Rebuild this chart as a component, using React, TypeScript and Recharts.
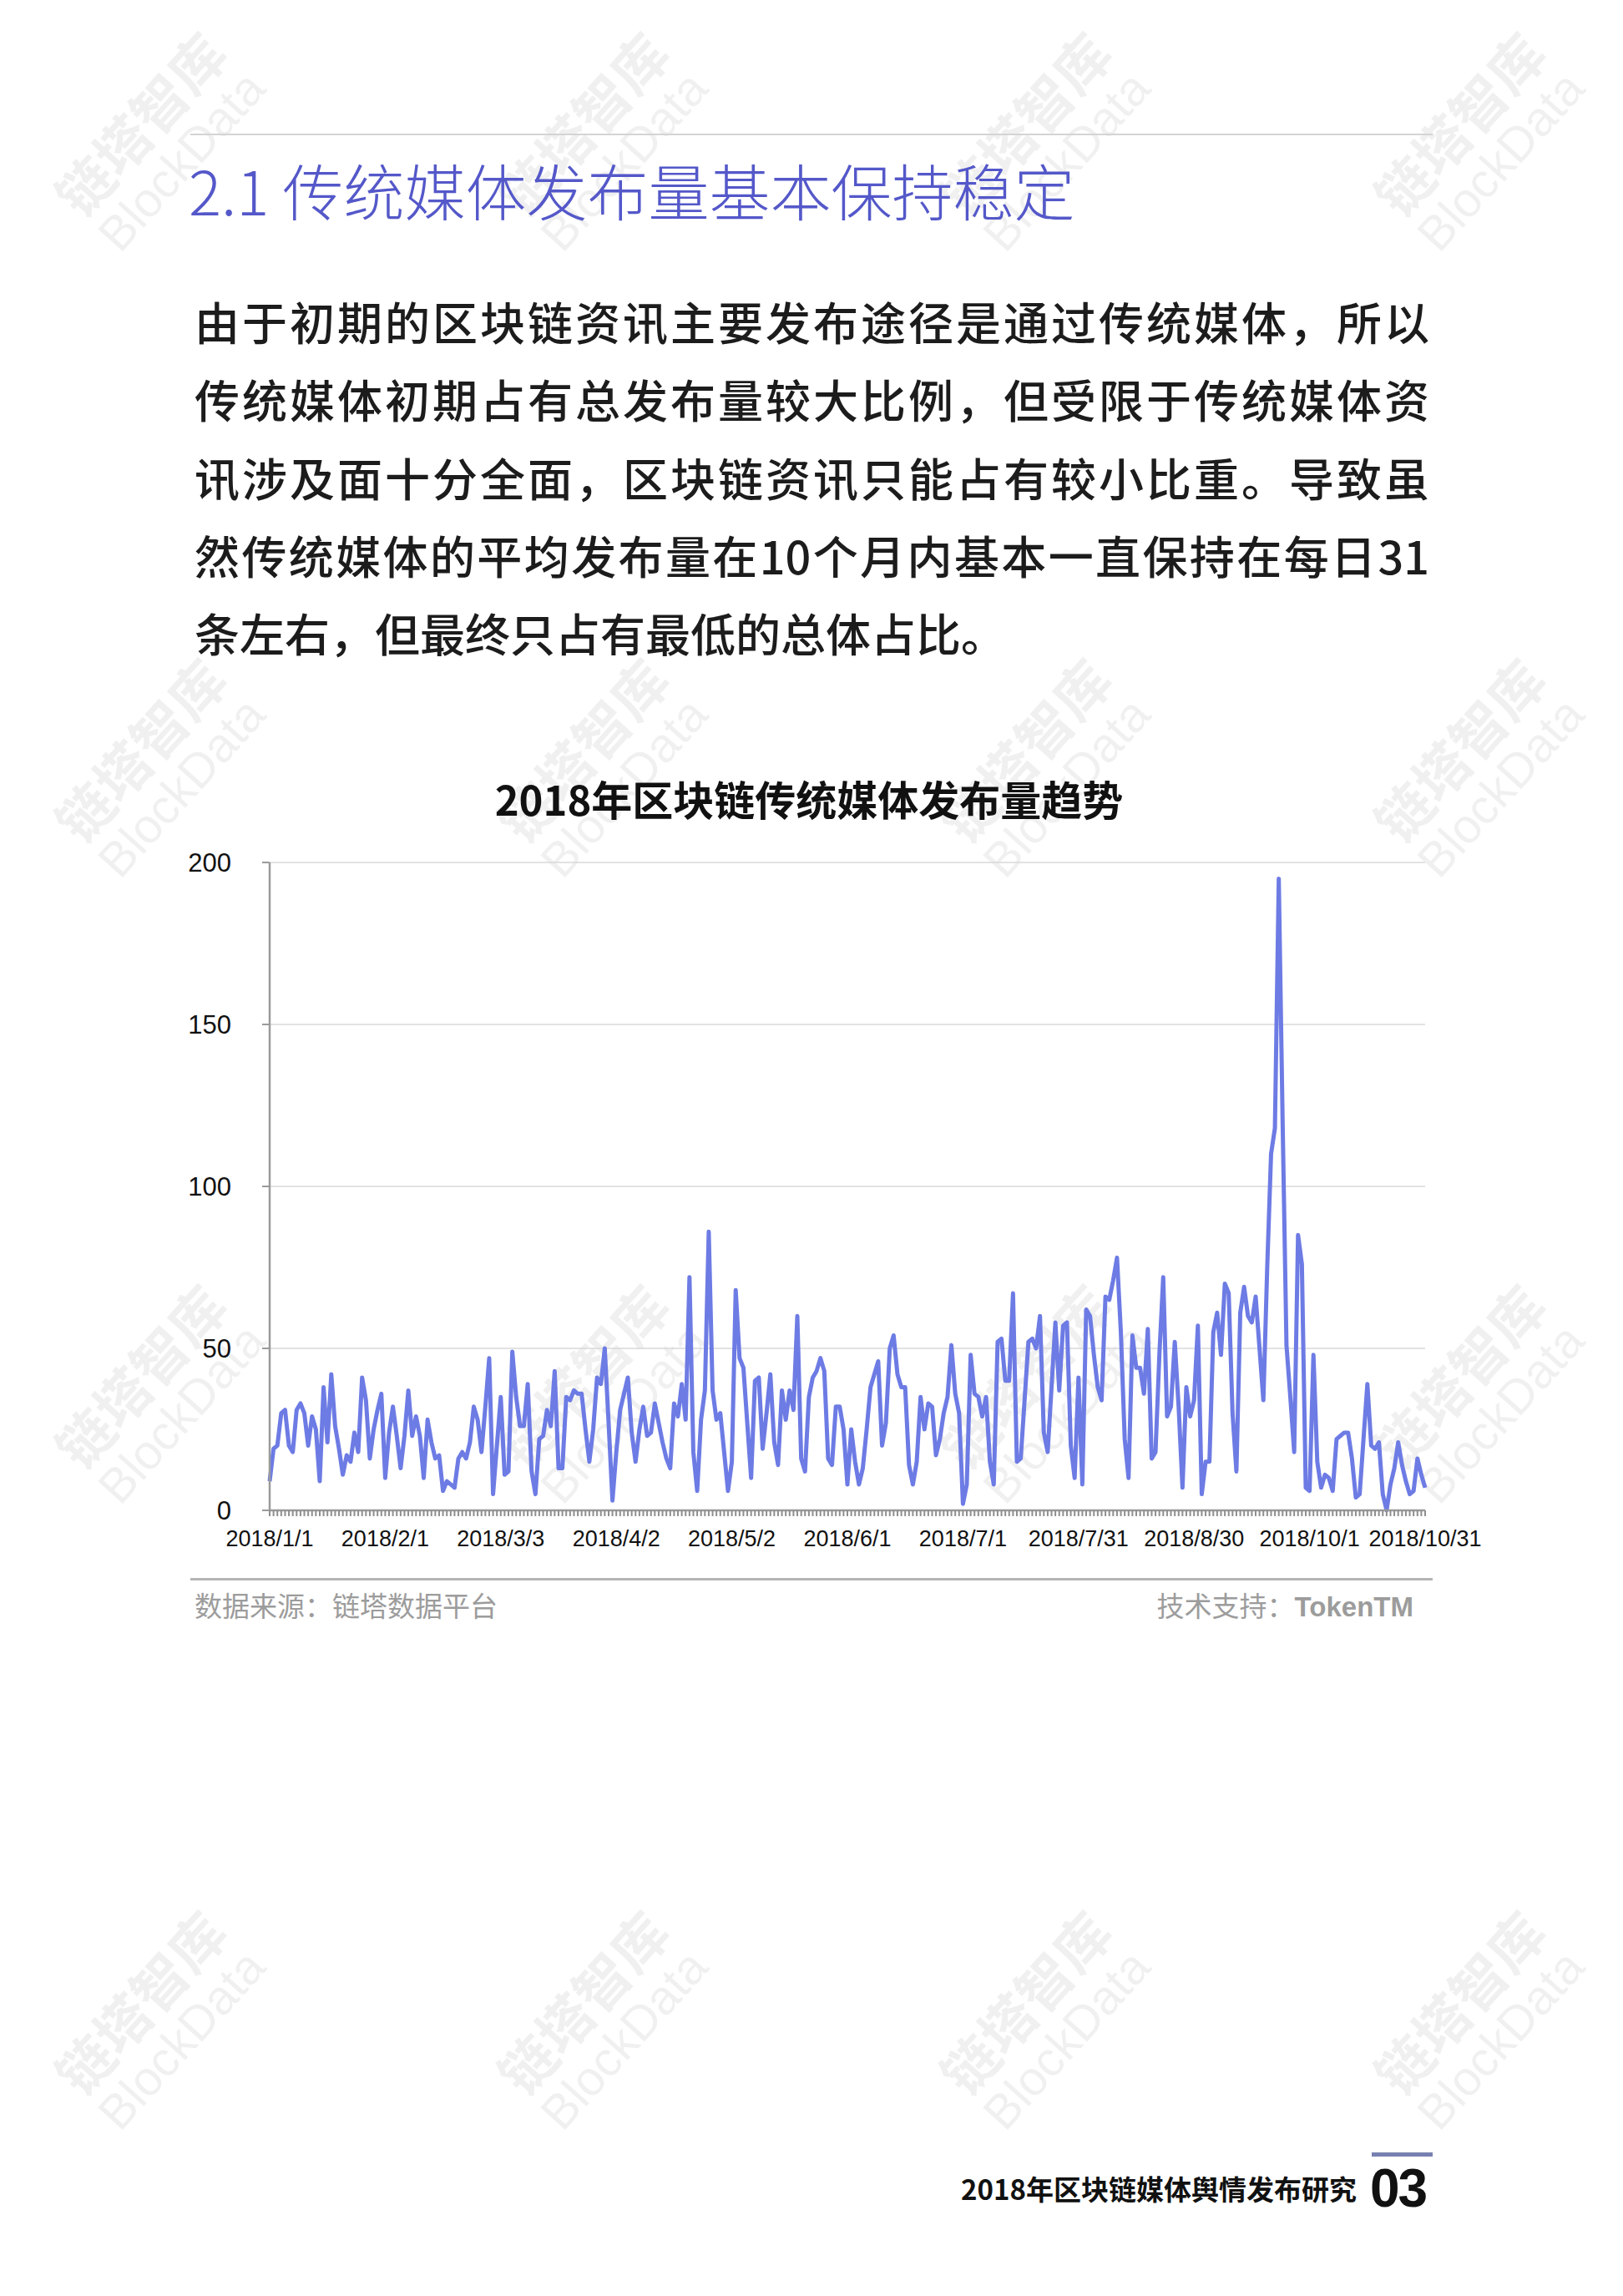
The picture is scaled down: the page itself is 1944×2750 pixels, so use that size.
import React from "react";
import { LineChart, Line, XAxis, YAxis, CartesianGrid } from "recharts";

// daily counts, 2018/1/1 .. 2018/10/31 (301 points in the source sheet)
const VALUES = [
  9, 19, 20, 30, 31, 20, 18, 31, 33, 30, 20, 29, 25, 9, 38, 21, 42, 26, 19, 11,
  17, 15, 24, 18, 41, 34, 16, 25, 31, 36, 10, 24, 32, 23, 13, 23, 37, 23, 29, 23,
  10, 28, 21, 16, 17, 6, 9, 8, 7, 16, 18, 16, 21, 32, 28, 18, 32, 47, 5, 20,
  35, 11, 12, 49, 35, 26, 26, 39, 12, 5, 22, 23, 31, 26, 43, 13, 13, 35, 34, 37,
  36, 36, 25, 15, 25, 41, 39, 50, 27, 3, 18, 31, 36, 41, 24, 15, 25, 32, 23, 24,
  33, 27, 21, 16, 13, 33, 29, 39, 28, 72, 18, 6, 28, 37, 86, 37, 28, 30, 18, 6,
  15, 68, 47, 44, 27, 10, 40, 41, 19, 30, 42, 21, 14, 37, 28, 37, 31, 60, 16, 12,
  35, 41, 43, 47, 43, 16, 14, 32, 32, 25, 8, 25, 15, 8, 13, 25, 38, 42, 46, 20,
  27, 50, 54, 42, 38, 38, 14, 8, 15, 35, 25, 33, 32, 17, 22, 30, 35, 51, 36, 30,
  2, 8, 48, 36, 35, 29, 35, 15, 8, 52, 53, 40, 40, 67, 15, 16, 34, 52, 53, 50,
  60, 24, 18, 38, 58, 37, 57, 58, 20, 10, 41, 8, 62, 60, 48, 38, 34, 66, 65, 71,
  78, 55, 22, 10, 54, 44, 44, 36, 56, 16, 18, 48, 72, 29, 32, 52, 32, 7, 38, 29,
  34, 57, 5, 15, 15, 55, 61, 48, 70, 67, 30, 12, 61, 69, 60, 58, 66, 50, 34, 75,
  110, 118, 195, 120, 51, 35, 18, 85, 76, 7, 6, 48, 15, 7, 11, 10, 6, 22, 23, 24,
  24, 16, 4, 5, 22, 39, 20, 19, 21, 5, 0, 8, 13, 21, 14, 9, 5, 6, 16, 11,
  7,
];

const TICK_LABELS = [
  "2018/1/1", "2018/2/1", "2018/3/3", "2018/4/2", "2018/5/2", "2018/6/1",
  "2018/7/1", "2018/7/31", "2018/8/30", "2018/10/1", "2018/10/31",
];
const LABEL_STEP = 30;
const Y_TICKS = [0, 50, 100, 150, 200];

const PARAGRAPH = [
  "由于初期的区块链资讯主要发布途径是通过传统媒体，所以",
  "传统媒体初期占有总发布量较大比例，但受限于传统媒体资",
  "讯涉及面十分全面，区块链资讯只能占有较小比重。导致虽",
  "然传统媒体的平均发布量在10个月内基本一直保持在每日31",
  "条左右，但最终只占有最低的总体占比。",
];

const data = VALUES.map((v, i) => ({ idx: i, value: v }));

const CJK = '"Noto Sans CJK SC", "Noto Sans", sans-serif';
const LAT = '"Liberation Sans", Arial, sans-serif';

function XTick(props: any) {
  const { x, y, payload } = props;
  const i = payload.value;
  if (i % LABEL_STEP !== 0) return <g />;
  return (
    <text x={x} y={y} dy="0.71em" textAnchor="middle" fontSize={27} fontFamily={LAT} fill="#111">
      {TICK_LABELS[i / LABEL_STEP]}
    </text>
  );
}

function Watermarks() {
  const cols = [190, 720, 1250, 1770];
  const rows = [160, 910, 1660, 2410];
  const out: React.ReactNode[] = [];
  rows.forEach((cy) =>
    cols.forEach((cx) => {
      out.push(
        <div
          key={cx + "-" + cy}
          style={{
            position: "absolute",
            left: cx - 160,
            top: cy - 60,
            width: 320,
            textAlign: "center",
            transform: "rotate(-48deg)",
            color: "rgba(0,0,0,0.06)",
            fontFamily: CJK,
            lineHeight: 1.1,
          }}
        >
          <div style={{ fontSize: 66, fontWeight: 700 }}>链塔智库</div>
          <div style={{ fontSize: 58, fontFamily: LAT }}>BlockData</div>
        </div>
      );
    })
  );
  return <>{out}</>;
}

export default function App() {
  return (
    <div
      style={{
        position: "absolute",
        left: 0,
        top: 0,
        width: 1944,
        height: 2750,
        background: "#fff",
        overflow: "hidden",
        fontFamily: CJK,
      }}
    >
      <Watermarks />

      {/* top rule */}
      <div style={{ position: "absolute", left: 228, top: 160, width: 1488, height: 2, background: "#d4d4d4" }} />

      <div
        style={{
          position: "absolute",
          left: 226,
          top: 181,
          height: 90,
          lineHeight: "90px",
          fontSize: 73,
          fontWeight: 300,
          color: "#5458c9",
          whiteSpace: "nowrap",
        }}
      >
        2.1 传统媒体发布量基本保持稳定
      </div>

      {PARAGRAPH.map((line, i) => (
        <div
          key={i}
          style={{
            position: "absolute",
            left: 233,
            top: 385 + i * 93.3 - 46,
            width: 1479,
            height: 92,
            lineHeight: "92px",
            fontSize: 54,
            fontWeight: 500,
            color: "#1c1c1c",
            textAlign: "justify",
            textAlignLast: i < PARAGRAPH.length - 1 ? "justify" : "left",
            whiteSpace: "nowrap",
          }}
        >
          {line}
        </div>
      ))}

      <div
        style={{
          position: "absolute",
          left: 569,
          top: 926,
          width: 800,
          height: 60,
          lineHeight: "60px",
          textAlign: "center",
          fontSize: 49,
          fontWeight: 700,
          color: "#111",
        }}
      >
        2018年区块链传统媒体发布量趋势
      </div>

      <div style={{ position: "absolute", left: 0, top: 1000 }}>
        <LineChart
          width={1944}
          height={900}
          data={data}
          margin={{ top: 33, right: 237, bottom: 31, left: 223 }}
        >
          <CartesianGrid vertical={false} stroke="#d9d9d9" strokeWidth={1.5} />
          <XAxis
            dataKey="idx"
            type="category"
            interval={0}
            height={60}
            tickSize={7}
            tickMargin={17}
            tick={<XTick />}
            tickLine={{ stroke: "#8f8f8f", strokeWidth: 2 }}
            axisLine={{ stroke: "#9a9a9a", strokeWidth: 2.5 }}
            padding={{ left: 0, right: 0 }}
          />
          <YAxis
            domain={[0, 200]}
            ticks={Y_TICKS}
            width={100}
            tickSize={9}
            tickMargin={37}
            tick={{ fontSize: 31, fontFamily: LAT, fill: "#111" }}
            tickLine={{ stroke: "#9a9a9a", strokeWidth: 2 }}
            axisLine={{ stroke: "#9a9a9a", strokeWidth: 2.5 }}
          />
          <Line
            type="linear"
            dataKey="value"
            stroke="#6d7be4"
            strokeWidth={5}
            strokeLinejoin="round"
            dot={false}
            isAnimationActive={false}
          />
        </LineChart>
      </div>

      {/* source rule */}
      <div style={{ position: "absolute", left: 228, top: 1890, width: 1488, height: 3, background: "#b5b5b5" }} />

      <div
        style={{
          position: "absolute",
          left: 233,
          top: 1900,
          height: 44,
          lineHeight: "44px",
          fontSize: 33,
          color: "#9c9c9c",
          whiteSpace: "nowrap",
        }}
      >
        数据来源：链塔数据平台
      </div>
      <div
        style={{
          position: "absolute",
          left: 1193,
          top: 1900,
          width: 500,
          height: 44,
          lineHeight: "44px",
          textAlign: "right",
          fontSize: 33,
          color: "#9c9c9c",
          whiteSpace: "nowrap",
        }}
      >
        技术支持：<span style={{ fontFamily: LAT, fontWeight: 700 }}>TokenTM</span>
      </div>

      {/* page footer */}
      <div style={{ position: "absolute", left: 1643, top: 2578, width: 73, height: 5, background: "#7880b0" }} />
      <div
        style={{
          position: "absolute",
          left: 1000,
          top: 2598,
          width: 625,
          height: 46,
          lineHeight: "46px",
          textAlign: "right",
          fontSize: 33,
          fontWeight: 700,
          color: "#111",
          whiteSpace: "nowrap",
        }}
      >
        2018年区块链媒体舆情发布研究
      </div>
      <div
        style={{
          position: "absolute",
          left: 1641,
          top: 2586,
          height: 70,
          lineHeight: "70px",
          fontSize: 64,
          fontWeight: 700,
          fontFamily: LAT,
          color: "#111",
          letterSpacing: -2,
        }}
      >
        03
      </div>
    </div>
  );
}
